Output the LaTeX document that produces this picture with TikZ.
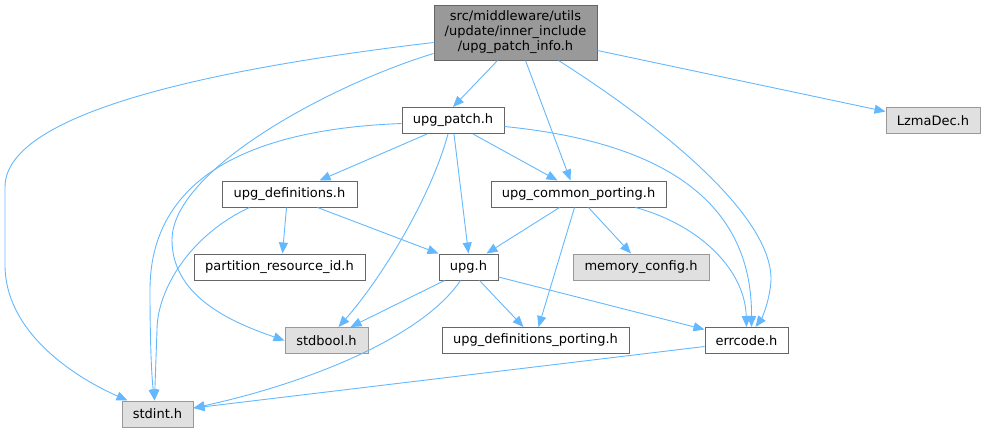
\documentclass[tikz,border=0pt]{standalone}
\usepackage{fontspec}
\setmainfont{DejaVu Sans}
\definecolor{EDGE}{HTML}{63B8FF}
\definecolor{BORDER}{HTML}{666666}
\definecolor{LBORDER}{HTML}{999999}
\definecolor{MAIN}{HTML}{999999}
\definecolor{EXT}{HTML}{E0E0E0}
\usetikzlibrary{arrows.meta,positioning,calc}
\begin{document}
\begin{tikzpicture}
[x=1pt, y=-1pt, file/.style ={rectangle, draw=BORDER, line width=1pt, fill=white,
minimum height=26pt, inner sep=0pt, font=\fontsize{13}{15}\selectfont},
ext/.style={file, draw=LBORDER, fill=EXT},
dedge/.style={EDGE, line width=0.9pt, -{Triangle[length=11pt,width=9pt]}}]
\useasboundingbox (0,0) rectangle (986,432);
\node[file,fill=MAIN,minimum width=163pt,minimum height=55pt,align=center] (T) at (515.5,32.5)
{src/middleware/utils\\/update/inner\_include\\/upg\_patch\_info.h};
\node[file,minimum width=102pt] (P) at (453,120.5) {upg\_patch.h};
\node[ext,minimum width=94pt] (L) at (933,120.5) {LzmaDec.h};
\node[file,minimum width=135pt] (D) at (289.5,194) {upg\_definitions.h};
\node[file,minimum width=175pt] (C) at (578.5,194) {upg\_common\_porting.h};
\node[file,minimum width=171pt] (R) at (279.5,267) {partition\_resource\_id.h};
\node[file,minimum width=59pt] (U) at (468.5,267) {upg.h};
\node[ext,minimum width=136pt] (M) at (641,267) {memory\_config.h};
\node[ext,minimum width=83pt] (B) at (326.5,340.5) {stdbool.h};
\node[file,minimum width=187pt] (Q) at (535.5,340.5) {upg\_definitions\_porting.h};
\node[file,minimum width=83pt] (E) at (746.5,340.5) {errcode.h};
\node[ext,minimum width=71pt] (I) at (157.5,414) {stdint.h};
% from upg_patch_info.h
\draw[dedge] ($(T.west)+(0,10)$) .. controls (200,70) and (5,115) .. (5,187) -- (5,265)
.. controls (5,330) and (70,375) .. ($(I.north west)+(6,0)$);
\draw[dedge] ($(T.west)+(0,21)$) .. controls (330,85) and (172,170) .. (172,240)
.. controls (172,300) and (240,325) .. (B.west);
\draw[dedge] ($(T.south)+(-18,0)$) -- (P.north);
\draw[dedge] ($(T.south)+(10,0)$) -- ($(C.north)+(-8,0)$);
\draw[dedge] ($(T.south)+(43,0)$) .. controls (660,125) and (772,215) .. (771,280)
.. controls (770,300) and (762,318) .. ($(E.north)+(9,0)$);
\draw[dedge] ($(T.east)+(0,18)$) -- ($(L.west)+(0,-9)$);
% from upg_patch.h
\draw[dedge] ($(P.west)+(0,3)$) .. controls (230,130) and (150,190) .. (150,290)
.. controls (150,350) and (152,380) .. ($(I.north)+(-3,0)$);
\draw[dedge] ($(P.south)+(-26,0)$) -- ($(D.north)+(30,0)$);
\draw[dedge] ($(P.south)+(-5,0)$) .. controls (430,200) and (380,280) .. ($(B.north)+(12,0)$);
\draw[dedge] ($(P.south)+(1,0)$) -- (U.north);
\draw[dedge] ($(P.south)+(20,0)$) -- ($(C.north)+(-21,0)$);
\draw[dedge] ($(P.east)+(0,6)$) .. controls (690,145) and (752,220) .. ($(E.north)+(5,0)$);
% from upg_definitions.h
\draw[dedge] ($(D.south)+(-40,0)$) .. controls (190,235) and (157,290) .. (157,330)
-- ($(I.north)+(-3,0)$);
\draw[dedge] ($(D.south)+(-3,0)$) -- ($(R.north)+(3,0)$);
\draw[dedge] ($(D.south)+(28,0)$) -- (U.north west);
% from upg_common_porting.h
\draw[dedge] ($(C.south)+(-19,0)$) -- ($(U.north)+(18,0)$);
\draw[dedge] ($(C.south)+(-4,0)$) -- ($(Q.north)+(3,0)$);
\draw[dedge] ($(C.south)+(10,0)$) -- ($(M.north)+(-10,0)$);
\draw[dedge] ($(C.south)+(57,0)$) .. controls (700,225) and (745,270) .. (E.north);
% from upg.h
\draw[dedge] ($(U.south)+(-24,0)$) -- ($(B.north)+(24,0)$);
\draw[dedge] ($(U.south)+(-8,0)$) .. controls (420,340) and (300,385) .. ($(I.east)+(0,-6)$);
\draw[dedge] ($(U.south)+(11,0)$) -- ($(Q.north)+(-12,0)$);
\draw[dedge] ($(U.east)+(0,10)$) -- ($(E.west)+(0,-11)$);
% from errcode.h
\draw[dedge] ($(E.west)+(0,6)$) -- ($(I.east)+(0,-6)$);
\end{tikzpicture}
\end{document}
